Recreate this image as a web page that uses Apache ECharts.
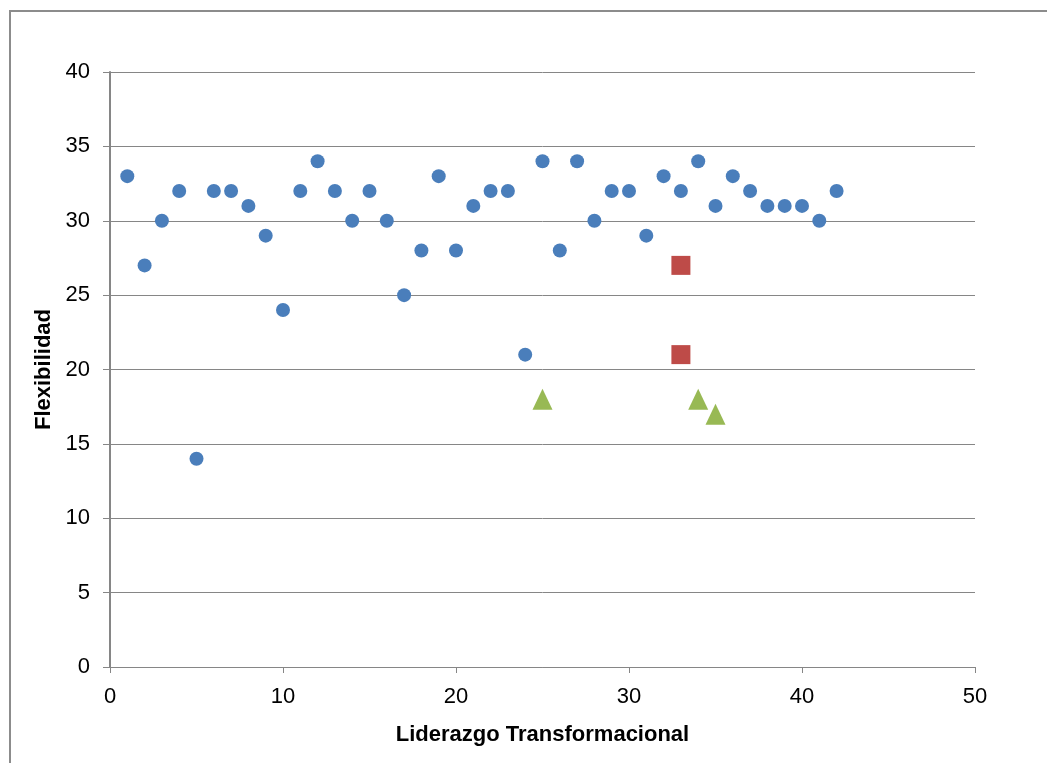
<!DOCTYPE html>
<html>
<head>
<meta charset="utf-8">
<script src="https://cdn.jsdelivr.net/npm/echarts@6/dist/echarts.min.js"></script>
<style>
  html, body { margin: 0; padding: 0; background: #fff; }
  #chart { width: 1047px; height: 763px; }
</style>
</head>
<body>
<div id="chart"></div>
<script>
// Liderazgo Transformacional (x) vs Flexibilidad (y)
const xAxisTicks = [0, 10, 20, 30, 40, 50];
const yAxisTicks = [0, 5, 10, 15, 20, 25, 30, 35, 40];

// Main group: participants 1..42
const groupX = [1,2,3,4,5,6,7,8,9,10,11,12,13,14,15,16,17,18,19,20,21,
                22,23,24,25,26,27,28,29,30,31,32,33,34,35,36,37,38,39,40,41,42];
const groupY = [33,27,30,32,14,32,32,31,29,24,32,34,32,30,32,30,25,28,33,28,31,
                32,32,21,34,28,34,30,32,32,29,33,32,34,31,33,32,31,31,31,30,32];

// Second group (squares)
const squareX = [33, 33];
const squareY = [27, 21];

// Third group (triangles)
const triangleX = [25, 34, 35];
const triangleY = [18, 18, 17];

const zip = (xs, ys) => xs.map((x, i) => [x, ys[i]]);

const axisGray = '#868686';
const labelFont = 'Liberation Sans, Arial, sans-serif';
const chart = echarts.init(document.getElementById('chart'));
chart.setOption({
  animation: false,
  backgroundColor: '#ffffff',
  graphic: [{
    type: 'rect',
    shape: { x: 10, y: 11, width: 1200, height: 900 },
    style: { fill: 'none', stroke: '#8c8c8c', lineWidth: 2 },
    silent: true
  }],
  grid: { left: 110, top: 72, right: 72, bottom: 96 },
  xAxis: {
    type: 'value',
    min: xAxisTicks[0],
    max: xAxisTicks[xAxisTicks.length - 1],
    interval: 10,
    name: 'Liderazgo Transformacional',
    nameLocation: 'middle',
    nameGap: 57,
    nameTextStyle: { fontFamily: labelFont, fontWeight: 'bold', fontSize: 22, color: '#000' },
    axisLine: { show: true, onZero: false, lineStyle: { color: axisGray, width: 1 } },
    axisTick: { show: true, length: 6, lineStyle: { color: axisGray } },
    axisLabel: { fontFamily: labelFont, fontSize: 22, color: '#000', margin: 19 },
    splitLine: { show: false }
  },
  yAxis: {
    type: 'value',
    min: yAxisTicks[0],
    max: yAxisTicks[yAxisTicks.length - 1],
    interval: 5,
    name: 'Flexibilidad',
    nameLocation: 'middle',
    nameGap: 55,
    nameTextStyle: { fontFamily: labelFont, fontWeight: 'bold', fontSize: 22, color: '#000' },
    axisLine: { show: true, lineStyle: { color: axisGray, width: 2 } },
    axisTick: { show: true, length: 7, lineStyle: { color: axisGray } },
    axisLabel: { fontFamily: labelFont, fontSize: 22, color: '#000', margin: 20 },
    splitLine: { show: true, lineStyle: { color: axisGray, width: 1 } }
  },
  series: [
    {
      type: 'scatter',
      data: zip(groupX, groupY),
      symbol: 'circle',
      symbolSize: 14,
      itemStyle: { color: '#4a7ebb', opacity: 1 }
    },
    {
      type: 'scatter',
      data: zip(squareX, squareY),
      symbol: 'rect',
      symbolSize: 19,
      itemStyle: { color: '#be4b48', opacity: 1 }
    },
    {
      type: 'scatter',
      data: zip(triangleX, triangleY),
      symbol: 'triangle',
      symbolSize: [20, 21],
      itemStyle: { color: '#98b954', opacity: 1 }
    }
  ]
});
</script>
</body>
</html>
